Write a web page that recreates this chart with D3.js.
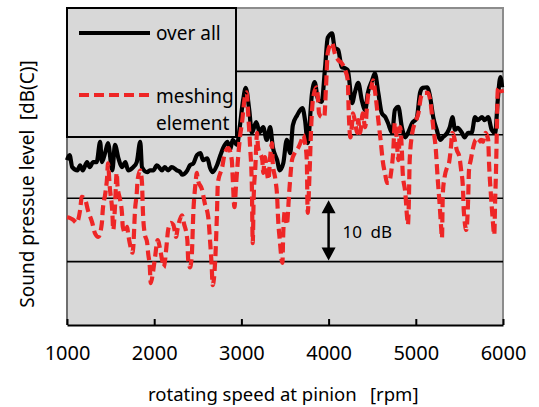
<!DOCTYPE html>
<html>
<head>
<meta charset="utf-8">
<script src="https://cdn.jsdelivr.net/npm/d3@7"></script>
<style>
  body { margin: 0; background: #fff; }
  text { font-family: "Noto Sans", "Noto Sans CJK JP", sans-serif; fill: #000; }
</style>
</head>
<body>
<div id="chart"></div>
<script>
// rotating speed [rpm] and level [dB]
var overallRpm = [1000,1030,1060,1120,1150,1180,1230,1260,1300,1340,1380,1400,1440,1470,1520,1550,1590,1630,1670,1700,
  1760,1800,1840,1860,1920,1950,1990,2030,2090,2120,2160,2200,2260,2300,2320,2380,2410,2450,2490,2530,
  2560,2610,2640,2670,2720,2760,2790,2840,2870,2900,2950,2980,3020,3050,3090,3120,3170,3210,3250,3290,
  3330,3360,3410,3440,3480,3520,3560,3590,3640,3700,3730,3760,3810,3840,3880,3920,3960,3990,4040,4070,
  4110,4150,4190,4220,4270,4300,4340,4380,4420,4450,4500,4530,4570,4610,4650,4680,4730,4760,4800,4840,
  4880,4910,4960,5010,5050,5080,5130,5160,5200,5240,5280,5310,5360,5390,5420,5450,5480,5530,5560,5600,
  5640,5680,5710,5760,5790,5830,5870,5910,5940,5970,5990];
var overallDb = [26.0,26.8,24.9,24.4,25.2,24.4,25.7,24.9,25.7,25.7,28.9,25.7,27.3,28.7,24.4,28.4,26.3,24.9,25.7,24.4,
  24.9,25.7,28.9,24.9,24.1,24.4,24.4,25.2,24.4,24.9,24.4,24.9,24.4,24.1,23.7,24.4,25.2,25.5,26.8,27.1,
  26.0,26.3,24.8,24.1,25.2,26.8,27.9,28.9,27.6,29.2,28.4,31.1,35.5,37.4,33.9,30.3,32.0,30.4,31.2,29.2,
  31.2,28.1,26.0,24.4,25.5,29.2,27.1,31.5,33.1,34.2,32.3,28.7,36.6,38.3,35.5,35.2,40.7,45.3,46.0,43.7,
  43.4,40.7,40.5,40.2,35.0,36.6,38.2,35.5,33.9,36.6,38.6,39.7,36.6,33.4,32.8,31.9,30.3,33.9,34.4,31.2,
  29.6,30.3,31.9,32.6,36.7,37.4,37.5,36.3,32.8,30.8,29.2,29.6,30.3,31.2,32.8,30.8,31.1,30.3,29.6,30.3,
  30.3,32.8,32.3,32.8,32.3,32.8,30.8,30.3,35.5,39.1,37.5];

var meshRpm = [1000,1030,1070,1110,1150,1170,1210,1240,1290,1320,1360,1400,1410,1440,1460,1470,1490,1520,1530,1550,
  1570,1580,1610,1630,1640,1670,1690,1700,1720,1750,1760,1780,1800,1810,1840,1860,1870,1890,1920,1930,
  1950,1960,1990,2010,2040,2070,2090,2110,2140,2160,2190,2220,2250,2270,
  2320,2340,2380,2390,2410,2430,2450,2470,2490,2500,2550,2580,2620,2640,2660,2670,2700,2720,2730,2780,
  2810,2850,2890,2900,2920,2940,2960,2980,3010,3040,3060,3080,3100,3120,3130,3140,3160,3180,3190,3240,
  3250,3270,3290,3310,3330,3350,3360,3390,3410,3420,3440,3470,3480,3500,3520,3550,3580,3610,3650,3690,
  3710,3730,3750,3760,3780,3800,3820,3860,3880,3890,3920,3950,3970,3990,4020,4040,4070,4110,4150,4190,
  4220,4230,4250,4270,4280,4300,4330,4340,4360,4380,4390,4420,4440,4450,4490,4510,4540,4570,4600,4620,
  4650,4670,4690,4720,4740,4760,4780,4800,4820,4840,4850,4880,4900,4910,4920,4930,4960,4990,5030,5060,
  5090,5140,5170,5200,5230,5250,5270,5290,5300,5310,5330,5360,5380,5400,5420,5440,5470,5500,5520,5540,
  5550,5580,5600,5610,5630,5660,5690,5710,5750,5770,5800,5830,5840,5860,5880,5900,5910,5920,5930,5940,
  5970,5990];
var meshDb = [17.0,16.9,16.6,16.1,18.1,20.2,19.7,18.1,16.1,14.5,13.9,16.1,18.1,20.8,23.3,25.5,21.8,17.7,15.0,18.6,
  24.0,21.8,19.7,17.7,15.5,14.5,15.5,14.5,12.9,11.4,12.3,18.1,20.8,22.9,24.4,22.4,18.1,14.5,12.9,11.4,
  9.1,6.6,8.7,10.7,13.4,11.8,10.3,9.1,12.3,15.0,16.1,15.8,13.9,15.3,
  17.3,16.1,13.4,10.3,9.1,10.7,18.1,21.8,24.0,22.9,21.3,19.2,17.0,13.4,9.1,6.3,10.3,17.7,22.4,24.9,
  27.1,27.9,26.0,23.3,18.6,22.4,26.0,29.2,32.3,36.0,36.7,32.8,28.1,21.8,12.9,19.7,24.9,30.3,28.1,26.0,
  24.0,26.5,24.4,22.9,26.5,28.7,25.5,22.9,20.2,17.0,13.4,9.8,14.5,18.1,15.8,21.3,26.0,27.1,27.9,29.2,
  30.0,28.7,26.0,17.7,23.3,31.2,35.5,37.5,35.5,33.4,32.8,32.8,37.5,42.9,44.2,44.5,42.9,41.8,41.3,40.2,
  38.6,33.9,29.6,31.9,33.4,32.3,30.3,32.3,30.3,32.3,33.4,31.2,34.4,36.0,37.5,38.6,36.0,32.3,28.7,26.0,
  23.7,22.4,22.4,24.4,27.1,31.9,29.6,26.0,31.2,27.6,24.0,20.8,17.0,15.8,19.2,26.0,30.3,31.9,33.4,36.0,
  36.6,36.6,35.0,31.2,27.6,23.3,19.7,15.5,13.7,20.8,23.3,24.9,25.5,27.6,30.3,29.6,27.6,26.5,24.4,21.8,
  18.1,15.0,19.7,24.4,26.0,28.1,29.2,28.7,29.2,28.9,30.3,29.2,25.5,20.8,17.0,14.2,19.7,24.4,31.2,37.1,
  37.5,36.6];

var xTicks = [1000, 2000, 3000, 4000, 5000, 6000];
var gridDb = [10, 20, 30, 40];
var legendLabels = ["over all", "meshing", "element"];

var svgWidth = 539;
var svgHeight = 407;
var margin = { top: 8, right: 36, bottom: 82, left: 67 };
var width = svgWidth - margin.left - margin.right;
var height = svgHeight - margin.top - margin.bottom;

var svg = d3.select("#chart")
  .append("svg")
  .attr("width", svgWidth)
  .attr("height", svgHeight);

var chartGroup = svg.append("g")
  .attr("transform", `translate(${margin.left}, ${margin.top})`);

var xScale = d3.scaleLinear().domain([1000, 6000]).range([0, width]);
var yScale = d3.scaleLinear().domain([0, 50]).range([height, 0]);

// plot background
chartGroup.append("rect")
  .attr("width", width)
  .attr("height", height)
  .attr("fill", "#d8d8d8");

chartGroup.append("path")
  .attr("d", `M0,0H${width}V${height}`)
  .attr("fill", "none")
  .attr("stroke", "#8c8c8c")
  .attr("stroke-width", 2);

chartGroup.append("line")
  .attr("x1", 0).attr("x2", 0)
  .attr("y1", 0).attr("y2", height)
  .attr("stroke", "#6e6e6e")
  .attr("stroke-width", 2);

// gridlines
chartGroup.selectAll(".grid")
  .data(gridDb)
  .enter()
  .append("line")
  .attr("class", "grid")
  .attr("x1", 0)
  .attr("x2", width)
  .attr("y1", d => yScale(d))
  .attr("y2", d => yScale(d))
  .attr("stroke", "#000")
  .attr("stroke-width", 1.6);

var lineGen = d3.line()
  .x(d => xScale(d[0]))
  .y(d => yScale(d[1]))
  .curve(d3.curveMonotoneX);

var overallData = overallRpm.map((r, i) => [r, overallDb[i]]);
var meshData = meshRpm.map((r, i) => [r, meshDb[i]]);

chartGroup.append("path")
  .datum(overallData)
  .attr("d", lineGen)
  .attr("fill", "none")
  .attr("stroke", "#000")
  .attr("stroke-width", 4.2)
  .attr("stroke-linejoin", "round");

chartGroup.append("path")
  .datum(meshData)
  .attr("d", lineGen)
  .attr("fill", "none")
  .attr("stroke", "#ee2626")
  .attr("stroke-width", 4.2)
  .attr("stroke-dasharray", "10,5");

// x axis, ticks pointing up
var bottomAxis = d3.axisBottom(xScale)
  .tickValues(xTicks)
  .tickFormat(d3.format("d"))
  .tickSizeInner(-6)
  .tickSizeOuter(0)
  .tickPadding(21);

var xAxis = chartGroup.append("g")
  .attr("transform", `translate(0, ${height})`)
  .call(bottomAxis);

xAxis.select(".domain").attr("stroke", "#000").attr("stroke-width", 2);
xAxis.selectAll(".tick line").attr("stroke", "#000").attr("stroke-width", 2);
xAxis.selectAll(".tick text")
  .attr("font-size", 20)
  .attr("font-family", "Noto Sans, sans-serif");

// 10 dB scale arrow
var arrowX = xScale(4000);
var arrowTop = yScale(20);
var arrowBottom = yScale(10);
chartGroup.append("line")
  .attr("x1", arrowX).attr("x2", arrowX)
  .attr("y1", arrowTop + 10).attr("y2", arrowBottom - 10)
  .attr("stroke", "#000")
  .attr("stroke-width", 2.5);
chartGroup.append("path")
  .attr("d", `M${arrowX},${arrowTop + 2}l-7,13h14z M${arrowX},${arrowBottom - 1}l-7,-13h14z`)
  .attr("fill", "#000");
chartGroup.append("text")
  .attr("x", arrowX + 14)
  .attr("y", (arrowTop + arrowBottom) / 2 + 8)
  .attr("font-size", 17)
  .text("10\u2002dB");

// legend box
var legend = chartGroup.append("g");
legend.append("rect")
  .attr("x", 0)
  .attr("y", 0)
  .attr("width", 169)
  .attr("height", 129)
  .attr("fill", "#d8d8d8")
  .attr("stroke", "#000")
  .attr("stroke-width", 2);
legend.append("line")
  .attr("x1", 12).attr("x2", 83)
  .attr("y1", 25).attr("y2", 25)
  .attr("stroke", "#000")
  .attr("stroke-width", 4.2);
legend.append("line")
  .attr("x1", 12).attr("x2", 83)
  .attr("y1", 87).attr("y2", 87)
  .attr("stroke", "#ee2626")
  .attr("stroke-width", 4.2)
  .attr("stroke-dasharray", "10,5");
legend.selectAll(".legendText")
  .data(legendLabels)
  .enter()
  .append("text")
  .attr("class", "legendText")
  .attr("x", 89)
  .attr("y", (d, i) => [32, 95, 122][i])
  .attr("font-size", 19)
  .text(d => d);

// axis titles
svg.append("text")
  .attr("transform", "rotate(-90)")
  .attr("x", -184)
  .attr("y", 34)
  .attr("text-anchor", "middle")
  .attr("font-size", 19)
  .text("Sound pressue level\u2002[dB(C)]");

var xTitle = svg.append("text")
  .attr("x", 148)
  .attr("y", 401)
  .attr("font-size", 18.5);
xTitle.append("tspan").text("rotating speed at pinion");
xTitle.append("tspan").attr("x", 370).text("[rpm]");
</script>
</body>
</html>
